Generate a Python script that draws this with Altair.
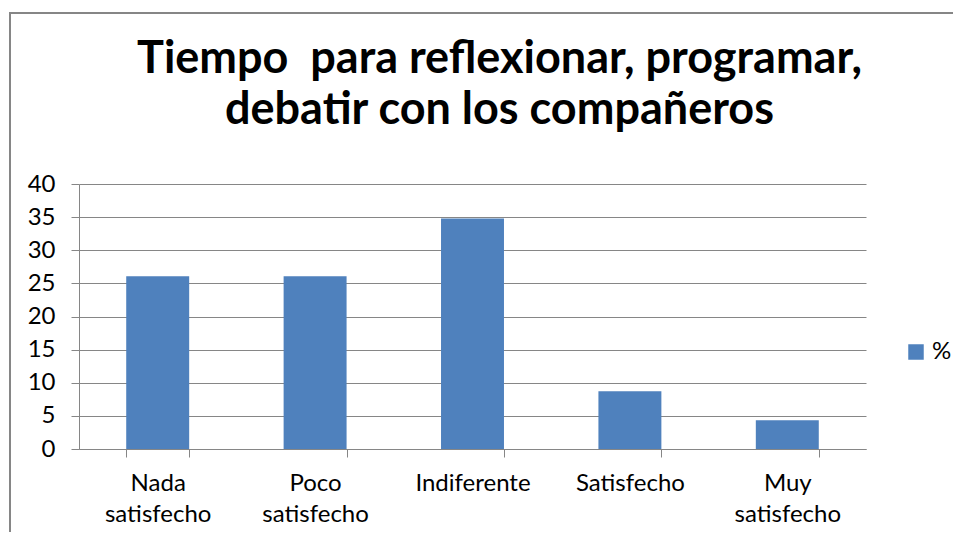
import altair as alt
import pandas as pd

categories = ["Nada satisfecho", "Poco satisfecho", "Indiferente", "Satisfecho", "Muy satisfecho"]
values = [26.09, 26.09, 34.78, 8.70, 4.35]
series = ["%"] * 5
y_ticks = [0, 5, 10, 15, 20, 25, 30, 35, 40]
title_lines = ["Tiempo \u00a0para reflexionar, programar,", "debatir con los compañeros"]

df = pd.DataFrame({"cat": categories, "val": values, "serie": series})

FONT = "Lato"
GRAY = "#868686"

frame = alt.Chart(df).mark_rect(fill=None, stroke=GRAY, strokeWidth=2, clip=False).encode(
    x=alt.value(-69), x2=alt.value(1200), y=alt.value(-171), y2=alt.value(600)
)

bars = alt.Chart(df).mark_bar(color="#4F81BD").encode(
    x=alt.X("cat:N", sort=categories,
            scale=alt.Scale(paddingInner=0.6, paddingOuter=0.3),
            axis=alt.Axis(title=None, labelAngle=0, tickBand="extent", tickSize=8,
                          tickColor=GRAY, domainColor=GRAY, labelFont=FONT,
                          labelFontSize=24, labelColor="black", labelPadding=14,
                          labelLineHeight=31, labelExpr="split(datum.label, ' ')",
                          grid=False)),
    y=alt.Y("val:Q", scale=alt.Scale(domain=[0, 40]),
            axis=alt.Axis(title=None, values=y_ticks, tickSize=8, tickColor=GRAY,
                          domainColor=GRAY, gridColor=GRAY, gridOpacity=1,
                          labelFont=FONT, labelFontSize=24, labelColor="black",
                          labelPadding=16)),
    color=alt.Color("serie:N", scale=alt.Scale(range=["#4F81BD"]),
                    legend=alt.Legend(title=None, orient="none", legendX=825, legendY=156,
                                      symbolType="square", symbolSize=240, symbolStrokeWidth=0,
                                      labelFont=FONT, labelFontSize=24, labelColor="black",
                                      padding=0)),
)

chart = alt.layer(frame, bars).properties(
    width=787, height=265,
    title=alt.TitleParams(text=title_lines, font=FONT, fontSize=45, fontWeight="bold",
                          color="black", anchor="middle", dx=27, dy=141, offset=20,
                          lineHeight=51),
    autosize=alt.AutoSizeParams(type="none"),
    padding={"left": 71, "top": 176, "right": 87, "bottom": 83},
).configure_view(stroke=None)

chart.save("out.html", embed_options={"renderer": "svg", "actions": False})
